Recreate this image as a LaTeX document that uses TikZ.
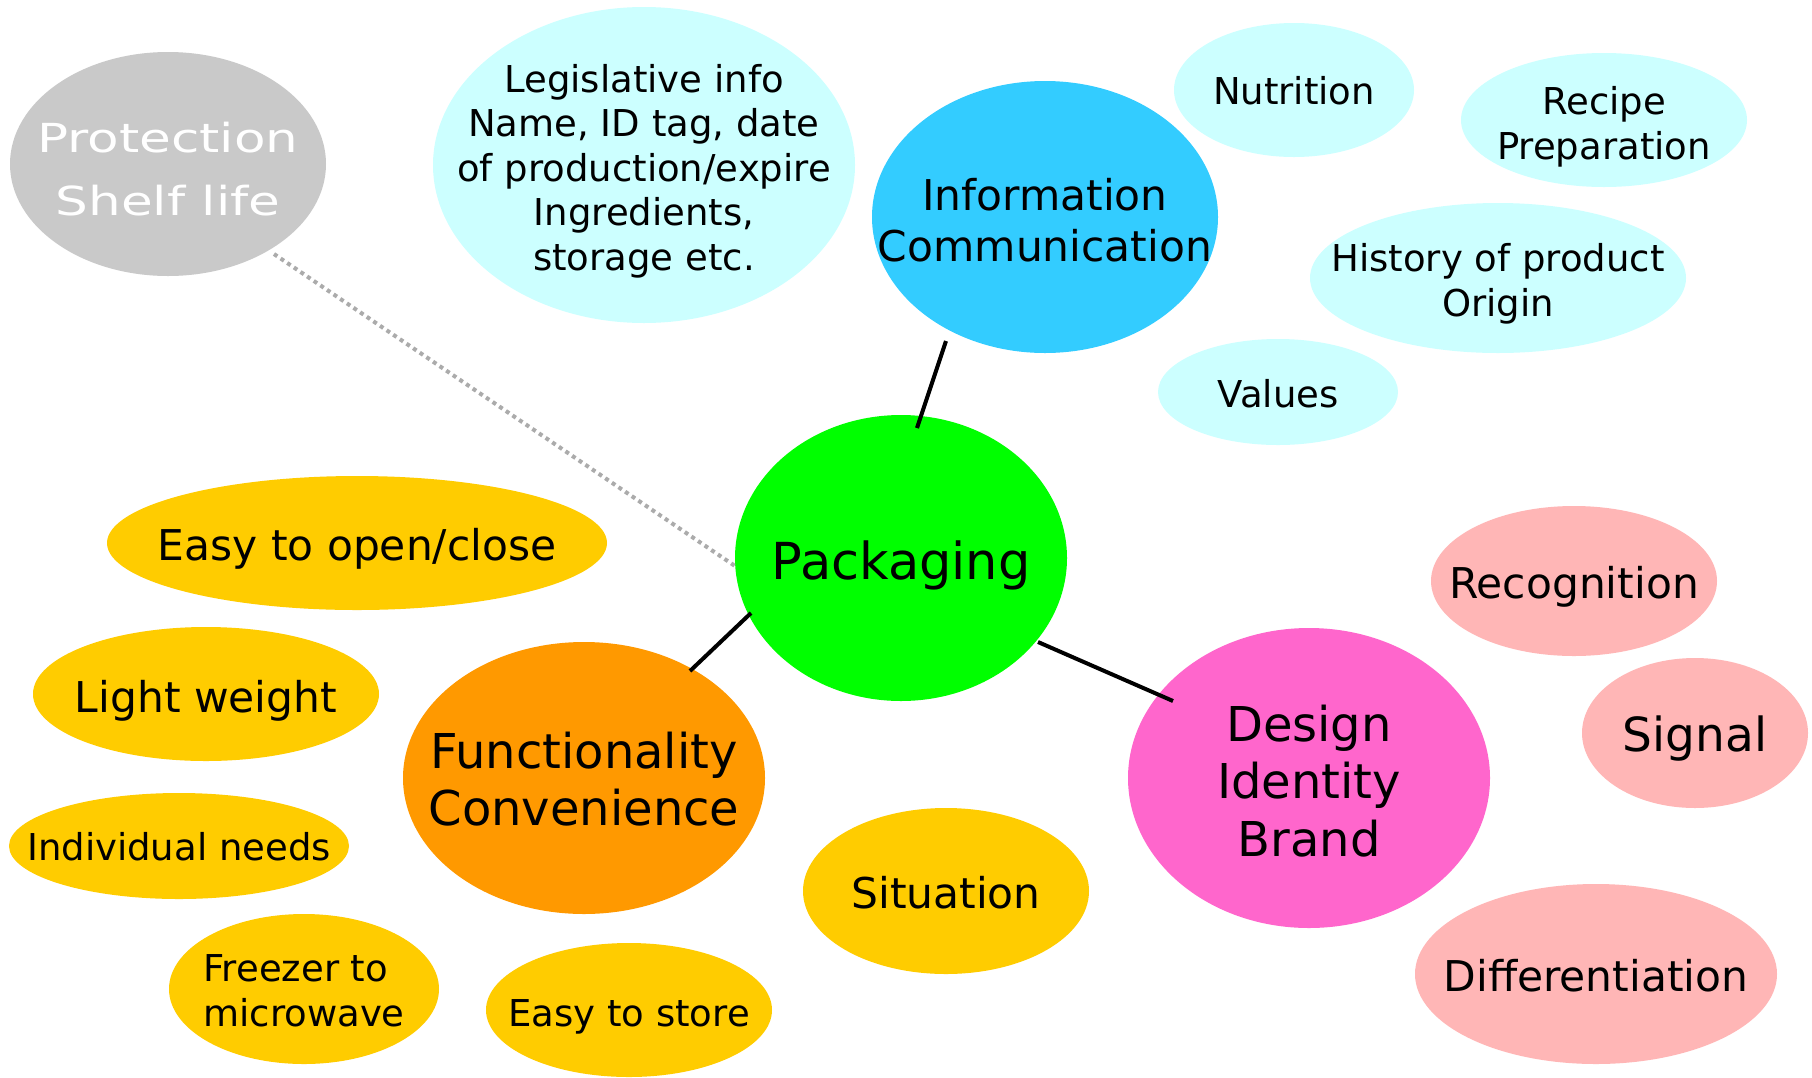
\documentclass[tikz,border=0pt]{standalone}
\usepackage{fontspec}
\usepackage{graphicx}
\setmainfont{DejaVu Sans}
\usetikzlibrary{shapes.geometric,calc}

\definecolor{cyanlight}{HTML}{CCFFFF}
\definecolor{infoblue}{HTML}{33CCFF}
\definecolor{pkggreen}{HTML}{00FF00}
\definecolor{funcyellow}{HTML}{FFCC00}
\definecolor{funcorange}{HTML}{FF9900}
\definecolor{designpink}{HTML}{FF66CC}
\definecolor{pinklight}{HTML}{FFB6B6}
\definecolor{protgray}{HTML}{C9C9C9}
\definecolor{dotgray}{HTML}{ABABAB}

\newcommand{\fs}[2]{\fontsize{#1}{#2}\selectfont}
% \bub{name}{position}{width}{height}{fill}{text style}{text}
\newcommand{\bub}[7]{%
  \node[bubble, fill=#5, minimum width=#3pt, minimum height=#4pt,
        label={[align=center, inner sep=0pt, #6]center:{#7}}] (#1) at #2 {};}

\begin{document}
\begin{tikzpicture}[x=1pt,y=-1pt,
  bubble/.style={ellipse, inner sep=0pt, outer sep=0pt},
  small/.style={font=\fs{37}{44.5}},
  medium/.style={font=\fs{42.4}{51}},
  large/.style={font=\fs{48}{57.5}},
  link/.style={line width=4pt, black},
  weaklink/.style={line width=4pt, dotgray, dash pattern=on 4pt off 4pt}]

\useasboundingbox (0,0) rectangle (1812,1077);
\fill[white] (0,0) rectangle (1812,1077);

% protection branch
\bub{prot}{(168,164)}{316}{224}{protgray}{text=white, font=\fs{40}{63}, yshift=-7pt}
  {\scalebox{1.29}[1]{\begin{tabular}{@{}c@{}}Protection\\Shelf life\end{tabular}}}

% information branch
\bub{legis}{(644,165)}{422}{316}{cyanlight}{small, yshift=-6pt}
  {Legislative info\\Name, ID tag, date\\of production/expire\\Ingredients,\\storage etc.}
\bub{info}{(1045,217)}{346}{272}{infoblue}{medium, yshift=-3.5pt}{Information\\Communication}
\bub{nutr}{(1294,90)}{240}{134}{cyanlight}{small, yshift=-1pt}{Nutrition}
\bub{recipe}{(1604,120)}{286}{134}{cyanlight}{small, yshift=-7pt}{Recipe\\Preparation}
\bub{hist}{(1498,278)}{376}{150}{cyanlight}{small, yshift=-6pt}{History of product\\Origin}
\bub{values}{(1278,392)}{240}{106}{cyanlight}{small, yshift=-2pt}{Values}

% centre
\bub{pkg}{(901,558)}{332}{286}{pkggreen}{font=\fs{51}{60}, yshift=-7pt}{Packaging}

% functionality branch
\bub{open}{(357,543)}{500}{134}{funcyellow}{medium, yshift=-6pt}{Easy to open/close}
\bub{light}{(206,694)}{346}{134}{funcyellow}{medium, yshift=-7pt}{Light weight}
\bub{indiv}{(179,846)}{340}{106}{funcyellow}{small, yshift=-1pt}{Individual needs}
\bub{freezer}{(304,989)}{270}{150}{funcyellow}{small, align=left, yshift=-2pt}{Freezer to\\microwave}
\bub{store}{(629,1010)}{286}{134}{funcyellow}{small, yshift=-7pt}{Easy to store}
\bub{func}{(584,778)}{362}{272}{funcorange}{large, yshift=-1pt}{Functionality\\Convenience}
\bub{situ}{(946,891)}{286}{166}{funcyellow}{medium, yshift=-2pt}{Situation}

% design branch
\bub{design}{(1309,778)}{362}{300}{designpink}{large, yshift=-3pt}{Design\\Identity\\Brand}
\bub{recog}{(1574,581)}{286}{150}{pinklight}{medium, yshift=-6pt}{Recognition}
\bub{signal}{(1695,733)}{226}{150}{pinklight}{font=\fs{47}{56}, yshift=-6pt}{Signal}
\bub{diff}{(1596,974)}{362}{180}{pinklight}{medium, yshift=-2pt}{Differentiation}

% connectors
\draw[weaklink] ($(prot.center)+(106,90)$) -- ($(pkg.center)+(-166,8)$);
\draw[link] ($(pkg.center)+(16,-130)$) -- ($(info.center)+(-99,124)$);
\draw[link] ($(pkg.center)+(-150,55)$) -- ($(func.center)+(106,-107)$);
\draw[link] ($(pkg.center)+(137,84)$) -- ($(design.center)+(-136,-77)$);
\end{tikzpicture}
\end{document}
